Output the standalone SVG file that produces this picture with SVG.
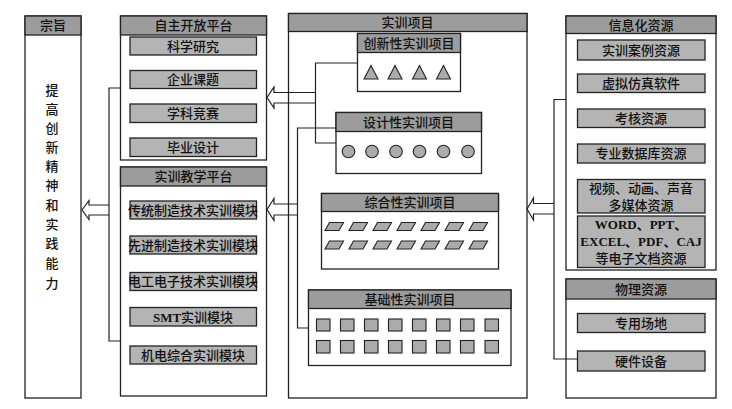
<svg xmlns="http://www.w3.org/2000/svg" width="732" height="409" viewBox="0 0 732 409">
<style>
text{font-family:"Liberation Serif","Noto Sans CJK SC",serif;font-size:13px;font-weight:500;fill:#111;text-anchor:middle;dominant-baseline:central}
.box{fill:#fff;stroke:#222;stroke-width:1.3}
.hd{fill:#9c9c9c;stroke:#222;stroke-width:1.3}
.it{fill:#b4b4b4;stroke:#222;stroke-width:1.3}
.sh{fill:#ababab;stroke:#222;stroke-width:1.1}
.ln{fill:none;stroke:#222;stroke-width:1.2}
.b{font-weight:bold}
</style>
<rect width="732" height="409" fill="#fff"/>

<g id="zongzhi">
<rect class="box" x="25" y="16" width="56" height="382"/>
<rect class="hd" x="25" y="16" width="56" height="19"/>
<text x="53" y="25.5">宗旨</text>
<text x="52" y="90">提</text>
<text x="52" y="109">高</text>
<text x="52" y="128">创</text>
<text x="52" y="147">新</text>
<text x="52" y="166">精</text>
<text x="52" y="185">神</text>
<text x="52" y="205">和</text>
<text x="52" y="224">实</text>
<text x="52" y="243">践</text>
<text x="52" y="263">能</text>
<text x="52" y="283">力</text>
</g>

<g id="zizhu">
<rect class="box" x="120.5" y="16" width="146" height="144"/>
<rect class="hd" x="120.5" y="16" width="146" height="19"/>
<text x="193.5" y="25.5">自主开放平台</text>
<rect class="it" x="130" y="37" width="126.5" height="18"/>
<text x="193" y="46">科学研究</text>
<rect class="it" x="130" y="70.5" width="126.5" height="18"/>
<text x="193" y="79.5">企业课题</text>
<rect class="it" x="130" y="104" width="126.5" height="18.5"/>
<text x="193" y="113">学科竞赛</text>
<rect class="it" x="130" y="138" width="126.5" height="18.5"/>
<text x="193" y="147">毕业设计</text>
</g>

<g id="jiaoxue">
<rect class="box" x="120.5" y="167" width="146" height="229"/>
<rect class="hd" x="120.5" y="167" width="146" height="19"/>
<text x="193.5" y="176.5">实训教学平台</text>
<rect class="it" x="130" y="201" width="126.5" height="18"/>
<text x="193" y="210">传统制造技术实训模块</text>
<rect class="it" x="130" y="236" width="126.5" height="18"/>
<text x="193" y="245">先进制造技术实训模块</text>
<rect class="it" x="130" y="272.5" width="126.5" height="18"/>
<text x="193" y="281.5">电工电子技术实训模块</text>
<rect class="it" x="130" y="307.5" width="126.5" height="18.5"/>
<text x="193" y="317"><tspan class="b">SMT</tspan>实训模块</text>
<rect class="it" x="130" y="346" width="126.5" height="18"/>
<text x="193" y="355">机电综合实训模块</text>
</g>

<g id="xiangmu">
<rect class="box" x="288.5" y="13.5" width="238.5" height="384.5"/>
<rect class="hd" x="288.5" y="13.5" width="238.5" height="18"/>
<text x="407.5" y="22">实训项目</text>
</g>

<g id="chuangxin">
<rect class="box" x="357.5" y="33.5" width="103" height="58"/>
<rect class="hd" x="357.5" y="33.5" width="103" height="19"/>
<text x="409" y="43">创新性实训项目</text>
<polygon class="sh" points="371,65.5 378,79 364,79"/>
<polygon class="sh" points="395,65.5 402,79 388,79"/>
<polygon class="sh" points="419.5,65.5 426.5,79 412.5,79"/>
<polygon class="sh" points="443.5,65.5 450.5,79 436.5,79"/>
</g>

<g id="sheji">
<rect class="box" x="336" y="112.5" width="145.5" height="61"/>
<rect class="hd" x="336" y="112.5" width="145.5" height="19"/>
<text x="408.5" y="122">设计性实训项目</text>
<circle class="sh" cx="348.5" cy="151.5" r="6.3"/>
<circle class="sh" cx="372" cy="151.5" r="6.3"/>
<circle class="sh" cx="396" cy="151.5" r="6.3"/>
<circle class="sh" cx="419.5" cy="151.5" r="6.3"/>
<circle class="sh" cx="443.5" cy="151.5" r="6.3"/>
<circle class="sh" cx="468" cy="151.5" r="6.3"/>
</g>

<g id="zonghe">
<rect class="box" x="321.5" y="193.5" width="177" height="75.5"/>
<rect class="hd" x="321.5" y="193.5" width="177" height="18"/>
<text x="410" y="202.5">综合性实训项目</text>
<g class="sh">
<polygon points="329.5,222.5 343.5,222.5 339,230.5 325,230.5"/>
<polygon points="353.5,222.5 367.5,222.5 363,230.5 349,230.5"/>
<polygon points="377.5,222.5 391.5,222.5 387,230.5 373,230.5"/>
<polygon points="401.5,222.5 415.5,222.5 411,230.5 397,230.5"/>
<polygon points="425.5,222.5 439.5,222.5 435,230.5 421,230.5"/>
<polygon points="449.5,222.5 463.5,222.5 459,230.5 445,230.5"/>
<polygon points="473.5,222.5 487.5,222.5 483,230.5 469,230.5"/>
<polygon points="329.5,241 343.5,241 339,249 325,249"/>
<polygon points="353.5,241 367.5,241 363,249 349,249"/>
<polygon points="377.5,241 391.5,241 387,249 373,249"/>
<polygon points="401.5,241 415.5,241 411,249 397,249"/>
<polygon points="425.5,241 439.5,241 435,249 421,249"/>
<polygon points="449.5,241 463.5,241 459,249 445,249"/>
<polygon points="473.5,241 487.5,241 483,249 469,249"/>
</g>
</g>

<g id="jichu">
<rect class="box" x="308.5" y="290" width="202.5" height="75.5"/>
<rect class="hd" x="308.5" y="290" width="202.5" height="18.5"/>
<text x="410" y="299">基础性实训项目</text>
<g class="sh">
<rect x="316.5" y="319" width="13.5" height="12"/>
<rect x="340.5" y="319" width="13.5" height="12"/>
<rect x="364.5" y="319" width="13.5" height="12"/>
<rect x="388.5" y="319" width="13.5" height="12"/>
<rect x="412.5" y="319" width="13.5" height="12"/>
<rect x="436.5" y="319" width="13.5" height="12"/>
<rect x="460.5" y="319" width="13.5" height="12"/>
<rect x="485" y="319" width="13.5" height="12"/>
<rect x="316.5" y="340.5" width="13.5" height="12.5"/>
<rect x="340.5" y="340.5" width="13.5" height="12.5"/>
<rect x="364.5" y="340.5" width="13.5" height="12.5"/>
<rect x="388.5" y="340.5" width="13.5" height="12.5"/>
<rect x="412.5" y="340.5" width="13.5" height="12.5"/>
<rect x="436.5" y="340.5" width="13.5" height="12.5"/>
<rect x="460.5" y="340.5" width="13.5" height="12.5"/>
<rect x="485" y="340.5" width="13.5" height="12.5"/>
</g>
</g>

<g id="xinxihua">
<rect class="box" x="566" y="16" width="150" height="254"/>
<rect class="hd" x="566" y="16" width="150" height="17.5"/>
<text x="641" y="25">信息化资源</text>
<rect class="it" x="577.5" y="40" width="127.5" height="20"/>
<text x="641" y="50">实训案例资源</text>
<rect class="it" x="577.5" y="74" width="127.5" height="18.5"/>
<text x="641" y="83.5">虚拟仿真软件</text>
<rect class="it" x="577.5" y="109" width="127.5" height="18.5"/>
<text x="641" y="118.5">考核资源</text>
<rect class="it" x="577.5" y="144" width="127.5" height="19"/>
<text x="641" y="153.5">专业数据库资源</text>
<rect class="it" x="577.5" y="179.5" width="127.5" height="33.5"/>
<text x="641" y="188">视频、动画、声音</text>
<text x="641" y="205">多媒体资源</text>
<rect class="it" x="577.5" y="216" width="127.5" height="51.5"/>
<text x="641" y="224.5" class="b">WORD、PPT、</text>
<text x="641" y="241.5" class="b">EXCEL、PDF、CAJ</text>
<text x="641" y="258.5">等电子文档资源</text>
</g>

<g id="wuli">
<rect class="box" x="566" y="279" width="150" height="119"/>
<rect class="hd" x="566" y="279" width="150" height="20"/>
<text x="641" y="289">物理资源</text>
<rect class="it" x="577.5" y="313.5" width="127.5" height="19"/>
<text x="641" y="323">专用场地</text>
<rect class="it" x="577.5" y="351" width="127.5" height="20"/>
<text x="641" y="361">硬件设备</text>
</g>

<g id="connectors" class="ln">
<polyline points="120.5,88 109,88 109,341 120.5,341"/>
<polyline points="109,205 89,205 89,200.5 82,210 89,219.5 89,215 109,215"/>
<polyline points="357.5,63 315.5,63 315.5,143 336,143"/>
<polyline points="315.5,92.5 274,92.5 274,87 267,97.5 274,108 274,103 315.5,103"/>
<polyline points="336,128 297.5,128 297.5,328 308.5,328"/>
<polyline points="297.5,204 274,204 274,198.5 267,209.5 274,220.5 274,215 297.5,215"/>
<polyline points="566,99.5 554,99.5 554,359 577.5,359"/>
<polyline points="554,203.5 533.5,203.5 533.5,198 527,209 533.5,220 533.5,214 554,214"/>
</g>
</svg>
